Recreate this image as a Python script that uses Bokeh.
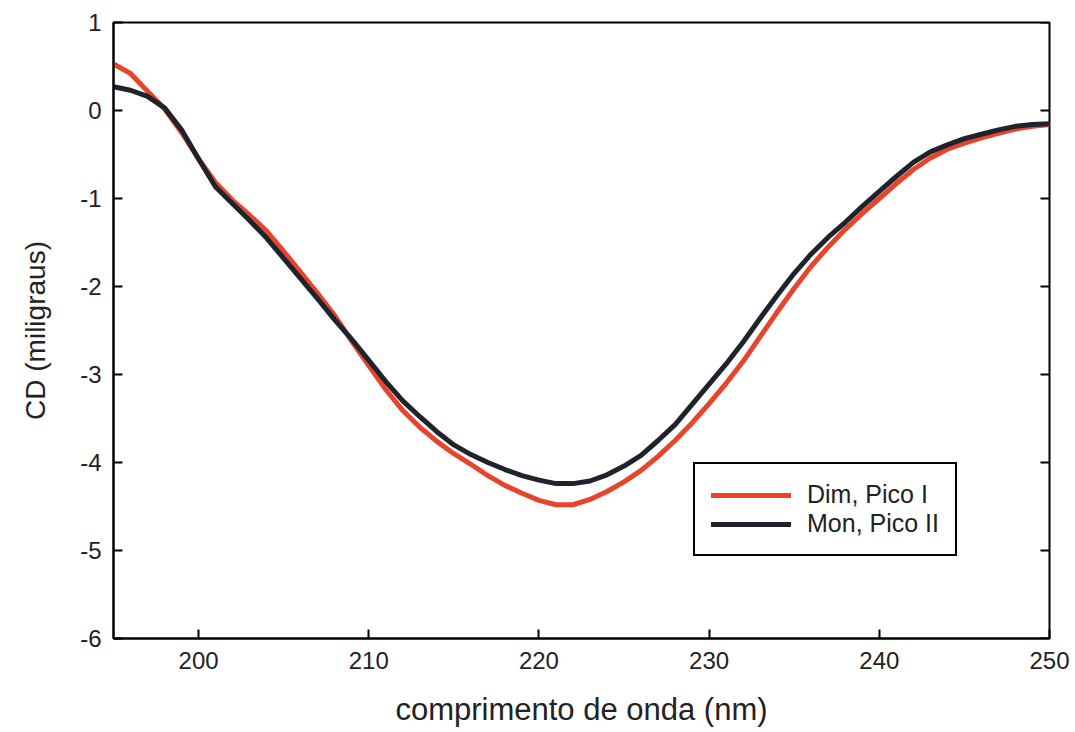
import math
from bokeh.plotting import figure
from bokeh.models import Legend, LegendItem, FixedTicker, Range1d
from bokeh.embed import file_html
from bokeh.resources import INLINE

wavelength = list(range(195, 251))
dim_pico_i = [0.53, 0.42, 0.22, 0.02, -0.25, -0.55, -0.82, -1.02, -1.19, -1.37,
              -1.60, -1.84, -2.08, -2.33, -2.62, -2.90, -3.17, -3.41, -3.60, -3.76,
              -3.90, -4.02, -4.15, -4.26, -4.35, -4.43, -4.48, -4.48, -4.42, -4.33,
              -4.22, -4.09, -3.93, -3.75, -3.55, -3.33, -3.10, -2.85, -2.57, -2.29,
              -2.02, -1.77, -1.55, -1.35, -1.17, -1.00, -0.83, -0.67, -0.54, -0.44,
              -0.37, -0.31, -0.26, -0.21, -0.18, -0.16]
mon_pico_ii = [0.27, 0.23, 0.16, 0.03, -0.22, -0.55, -0.87, -1.06, -1.25, -1.45,
               -1.68, -1.91, -2.14, -2.38, -2.60, -2.84, -3.08, -3.30, -3.48, -3.65,
               -3.80, -3.91, -4.00, -4.08, -4.15, -4.20, -4.24, -4.24, -4.21, -4.14,
               -4.04, -3.92, -3.75, -3.57, -3.34, -3.11, -2.88, -2.63, -2.36, -2.10,
               -1.85, -1.63, -1.44, -1.27, -1.09, -0.92, -0.75, -0.59, -0.47, -0.39,
               -0.32, -0.27, -0.22, -0.18, -0.16, -0.15]
x_ticks = [200, 210, 220, 230, 240, 250]
y_ticks = [-6, -5, -4, -3, -2, -1, 0, 1]
y_tick_labels = ["-6", "-5", "-4", "-3", "-2", "-1", "0", "1"]
series_names = ["Dim, Pico I", "Mon, Pico II"]

FONT = "Liberation Sans"

p = figure(width=1075, height=732, x_range=Range1d(195, 250), y_range=Range1d(-6, 1),
           output_backend="svg", toolbar_location=None,
           min_border_left=113, min_border_right=26, min_border_top=22, min_border_bottom=94)
p.background_fill_color = "white"
p.border_fill_color = "white"
p.xgrid.visible = False
p.ygrid.visible = False
p.outline_line_color = "black"
p.outline_line_width = 2

r_dim = p.line(wavelength, dim_pico_i, line_color="#E8432D", line_width=5,
               line_join="round", line_cap="round")
r_mon = p.line(wavelength, mon_pico_ii, line_color="#1E232C", line_width=5,
               line_join="round", line_cap="round")

for ax in (p.xaxis[0], p.yaxis[0]):
    ax.axis_line_color = "black"
    ax.axis_line_width = 2
    ax.major_tick_in = 9
    ax.major_tick_out = 0
    ax.major_tick_line_width = 2
    ax.minor_tick_line_color = None
    ax.major_label_text_font = FONT
    ax.major_label_text_font_size = "24px"
    ax.major_label_text_color = "#222222"
    ax.axis_label_text_font = FONT
    ax.axis_label_text_font_style = "normal"
    ax.axis_label_text_color = "#222222"

p.xaxis[0].ticker = FixedTicker(ticks=x_ticks)
p.yaxis[0].ticker = FixedTicker(ticks=y_ticks)
p.yaxis[0].major_label_overrides = {t: s for t, s in zip(y_ticks, y_tick_labels)}
p.xaxis[0].axis_label = "comprimento de onda (nm)"
p.yaxis[0].axis_label = "CD (miligraus)"
p.xaxis[0].axis_label_text_font_size = "31px"
p.yaxis[0].axis_label_text_font_size = "28px"
p.xaxis[0].major_label_standoff = 13
p.yaxis[0].major_label_standoff = 12
p.xaxis[0].axis_label_standoff = 20
p.yaxis[0].axis_label_standoff = 26

# inward ticks on the right frame edge, drawn at the same y ticks
p.ray(x=[250] * len(y_ticks), y=y_ticks, length=9, length_units="screen",
      angle=math.pi, line_color="black", line_width=2)

legend = Legend(items=[LegendItem(label=series_names[0], renderers=[r_dim]),
                       LegendItem(label=series_names[1], renderers=[r_mon])],
                location=(580, 82))
legend.border_line_color = "black"
legend.border_line_alpha = 1
legend.border_line_width = 2
legend.background_fill_color = "white"
legend.background_fill_alpha = 1
legend.label_text_font = FONT
legend.label_text_font_size = "25px"
legend.label_text_color = "#222222"
legend.glyph_width = 80
legend.glyph_height = 22
legend.label_height = 22
legend.label_standoff = 16
legend.padding = 16
legend.spacing = 0
legend.margin = 0
p.add_layout(legend, "center")

open("out.html", "w").write(file_html(p, INLINE))
